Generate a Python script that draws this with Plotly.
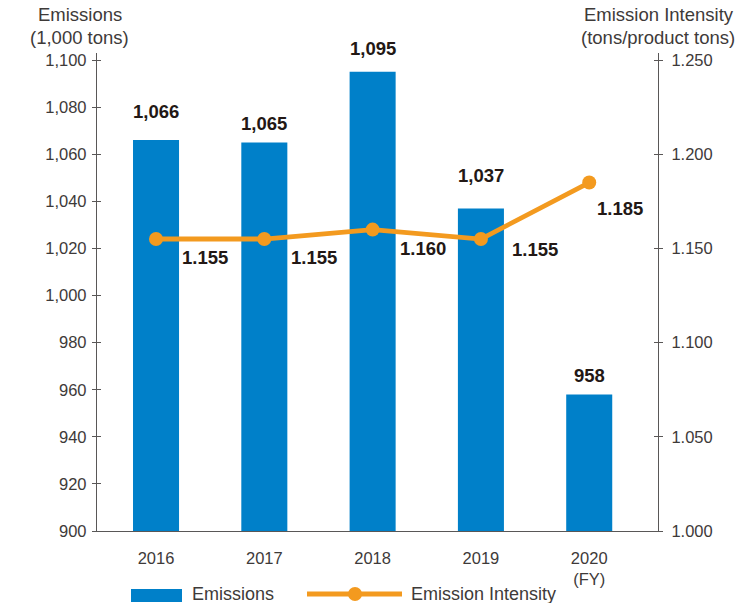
import plotly.graph_objects as go

# Fiscal years, emissions (1,000 tons) and emission intensity (tons/product tons)
years = ["2016", "2017", "2018", "2019", "2020"]
year_labels = ["2016", "2017", "2018", "2019", "2020<br>(FY)"]
emissions = [1066, 1065, 1095, 1037, 958]
emission_labels = ["1,066", "1,065", "1,095", "1,037", "958"]
intensity = [1.155, 1.155, 1.160, 1.155, 1.185]
intensity_labels = ["1.155", "1.155", "1.160", "1.155", "1.185"]

left_ticks = list(range(900, 1101, 20))
right_ticks = [1.000, 1.050, 1.100, 1.150, 1.200, 1.250]

BAR_BLUE = "#0080C9"
LINE_ORANGE = "#F39A1F"
DARK_TEXT = "#231815"
TICK_TEXT = "#3E3A39"
AXIS_COLOR = "#595757"
FONT = "Liberation Sans"

# canvas geometry (pixels)
W_PX, H_PX = 744, 603
L, R, T, B = 97, 86, 53, 72
PLOT_W = W_PX - L - R
PLOT_H = H_PX - T - B


def px_x(px):
    return (px - L) / PLOT_W


def px_y(py):
    return (H_PX - B - py) / PLOT_H


fig = go.Figure()

fig.add_trace(go.Bar(
    x=years, y=emissions, name="Emissions",
    marker=dict(color=BAR_BLUE, line=dict(width=0)),
    width=0.425, yaxis="y", showlegend=False, hoverinfo="x+y",
))

fig.add_trace(go.Scatter(
    x=years, y=intensity, name="Emission Intensity",
    mode="lines+markers", yaxis="y2",
    line=dict(color=LINE_ORANGE, width=4.8),
    marker=dict(color=LINE_ORANGE, size=14),
    showlegend=False,
))

# helper traces so the crossing half of each tick is drawn
fig.add_trace(go.Scatter(x=years, y=emissions, yaxis="y3", mode="none",
                         showlegend=False, hoverinfo="skip"))
fig.add_trace(go.Scatter(x=years, y=intensity, yaxis="y4", mode="none",
                         showlegend=False, hoverinfo="skip"))

annotations = []
value_font = dict(family=FONT, size=18.5, color=DARK_TEXT)

# value labels above the bars (category axis positions given by index)
bar_label_lift = [29, 19, 23, 33, 19]
for i, (v, lab, lift) in enumerate(zip(emissions, emission_labels, bar_label_lift)):
    annotations.append(dict(
        x=i, y=v, xref="x", yref="y", text=f"<b>{lab}</b>",
        showarrow=False, yshift=lift, yanchor="middle", font=value_font,
    ))

# value labels beside the intensity markers
line_label_shift = [(49, -18), (50, -18), (50, -19), (54, -10), (31, -26)]
for i, (v, lab, (dx, dy)) in enumerate(zip(intensity, intensity_labels, line_label_shift)):
    annotations.append(dict(
        x=i, y=v, xref="x", yref="y2", text=f"<b>{lab}</b>",
        showarrow=False, xshift=dx, yshift=dy, yanchor="middle", font=value_font,
    ))

# axis titles
title_font = dict(family=FONT, size=18.5, color=TICK_TEXT)
for txt, cx, cy in [("Emissions", 80, 15), ("(1,000 tons)", 79, 38),
                    ("Emission Intensity", 659, 15), ("(tons/product tons)", 658, 38)]:
    annotations.append(dict(
        x=px_x(cx), y=px_y(cy), xref="paper", yref="paper", text=txt,
        showarrow=False, xanchor="center", yanchor="middle", font=title_font,
    ))

# legend entries
legend_font = dict(family=FONT, size=18, color=TICK_TEXT)
annotations.append(dict(x=px_x(190), y=px_y(594), xref="paper", yref="paper",
                        text="Emissions", showarrow=False, xanchor="left",
                        yanchor="middle", font=legend_font))
annotations.append(dict(x=px_x(409), y=px_y(594), xref="paper", yref="paper",
                        text="Emission Intensity", showarrow=False, xanchor="left",
                        yanchor="middle", font=legend_font))

shapes = [
    dict(type="rect", xref="paper", yref="paper",
         x0=px_x(131), x1=px_x(182), y0=px_y(602), y1=px_y(589),
         fillcolor=BAR_BLUE, line=dict(width=0)),
    dict(type="line", xref="paper", yref="paper",
         x0=px_x(307), x1=px_x(402), y0=px_y(594), y1=px_y(594),
         line=dict(color=LINE_ORANGE, width=4.8)),
    dict(type="circle", xref="paper", yref="paper",
         x0=px_x(348), x1=px_x(362), y0=px_y(601), y1=px_y(587),
         fillcolor=LINE_ORANGE, line=dict(width=0)),
]

tick_font = dict(family=FONT, size=16.5, color=TICK_TEXT)
left_range = [900, 1103]
right_range = [1.0, 1.25 + 3 * 0.25 / 200]

fig.update_layout(
    width=W_PX, height=H_PX,
    margin=dict(l=L, r=R, t=T, b=B, pad=0),
    paper_bgcolor="white", plot_bgcolor="white",
    font=dict(family=FONT, color=TICK_TEXT),
    showlegend=False,
    bargap=0.5,
    xaxis=dict(
        type="category", range=[-0.545, 4.635],
        tickvals=years, ticktext=year_labels,
        showgrid=False, zeroline=False,
        showline=True, linecolor=AXIS_COLOR, linewidth=1.3,
        ticks="", tickfont=tick_font, ticklabelstandoff=12,
    ),
    yaxis=dict(
        range=left_range, tickvals=left_ticks,
        ticktext=[f"{v:,}" for v in left_ticks],
        showgrid=False, zeroline=False,
        showline=True, linecolor=AXIS_COLOR, linewidth=1.3,
        ticks="outside", ticklen=4, tickwidth=1, tickcolor=AXIS_COLOR,
        tickfont=tick_font, ticklabelstandoff=2,
    ),
    yaxis2=dict(
        range=right_range, tickvals=right_ticks,
        ticktext=[f"{v:.3f}" for v in right_ticks],
        overlaying="y", side="right",
        showgrid=False, zeroline=False,
        showline=True, linecolor=AXIS_COLOR, linewidth=1.3,
        ticks="outside", ticklen=4, tickwidth=1, tickcolor=AXIS_COLOR,
        tickfont=tick_font, ticklabelstandoff=5,
    ),
    yaxis3=dict(
        range=left_range, tickvals=left_ticks, overlaying="y", side="left",
        showgrid=False, zeroline=False, showline=False, showticklabels=False,
        ticks="inside", ticklen=4, tickwidth=1, tickcolor=AXIS_COLOR,
    ),
    yaxis4=dict(
        range=right_range, tickvals=right_ticks, overlaying="y", side="right",
        showgrid=False, zeroline=False, showline=False, showticklabels=False,
        ticks="inside", ticklen=4, tickwidth=1, tickcolor=AXIS_COLOR,
    ),
    annotations=annotations,
    shapes=shapes,
)

fig.write_html("out.html")
